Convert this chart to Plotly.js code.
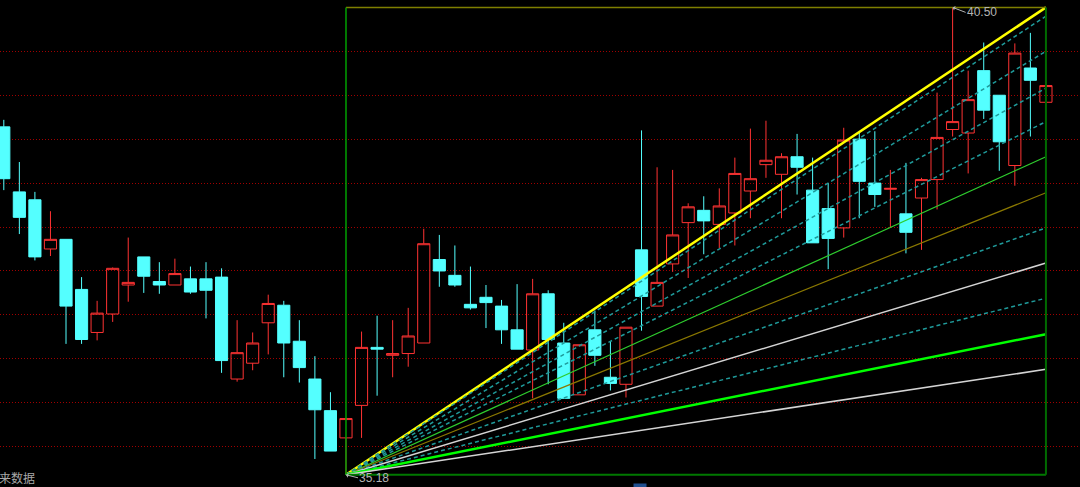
<!DOCTYPE html>
<html>
<head>
<meta charset="utf-8">
<script src="https://cdn.plot.ly/plotly-3.0.1.min.js"></script>
<style>
html,body{margin:0;padding:0;background:#000;overflow:hidden;}
#chart{width:1080px;height:487px;}
</style>
</head>
<body>
<div id="chart"></div>
<script>
// ---- candle data (index 0..67) ----
const bars = [0,1,2,3,4,5,6,7,8,9,10,11,12,13,14,15,16,17,18,19,20,21,22,23,24,25,26,27,28,29,30,31,32,33,34,35,36,37,38,39,40,41,42,43,44,45,46,47,48,49,50,51,52,53,54,55,56,57,58,59,60,61,62,63,64,65,66,67];
const openP  = [39.14,38.40,38.31,37.75,37.86,37.29,36.80,37.01,37.34,37.66,37.38,37.34,37.41,37.41,37.43,36.27,36.45,36.91,37.11,36.70,36.27,35.91,35.60,35.97,36.63,36.54,36.56,36.68,37.63,37.45,37.12,37.20,37.10,36.83,36.60,37.24,36.68,36.09,36.83,36.29,36.21,37.74,37.10,37.58,38.05,38.19,38.03,38.16,38.41,38.71,38.60,38.80,38.42,38.21,37.99,39.00,38.50,38.43,38.15,38.33,38.54,39.11,39.07,39.78,39.50,38.70,39.81,39.42];
const highP  = [39.22,38.74,38.40,38.18,37.86,37.43,37.16,37.54,37.88,37.66,37.60,37.64,37.55,37.60,37.53,36.94,36.80,37.23,37.16,36.94,36.53,36.12,35.82,36.81,36.99,36.94,37.08,37.98,37.91,37.79,37.55,37.34,37.17,37.35,37.41,37.28,36.91,36.66,37.05,36.70,36.86,39.10,38.68,38.65,38.27,38.35,38.44,38.79,39.12,39.21,38.84,39.06,38.79,38.50,39.13,39.09,39.09,38.65,38.73,38.56,39.53,40.50,39.78,40.10,39.50,40.09,40.21,39.61];
const lowP   = [38.42,37.92,37.62,37.67,36.67,36.67,36.71,36.92,37.15,37.25,37.24,37.34,37.24,36.96,36.34,36.24,36.37,36.55,36.29,36.23,35.36,35.45,35.18,35.60,36.08,36.29,36.41,36.68,37.32,37.32,37.06,36.85,36.67,36.61,36.05,36.21,36.05,36.09,36.42,36.14,36.06,36.82,37.10,37.49,37.42,37.69,37.76,37.79,38.10,38.56,38.10,38.37,37.82,37.52,37.88,38.10,38.23,37.99,37.70,37.74,38.20,39.03,38.61,39.23,38.64,38.47,39.03,39.42];
const closeP = [38.55,38.11,37.66,37.86,37.10,36.72,37.02,37.53,37.37,37.44,37.34,37.47,37.26,37.28,36.48,36.57,36.68,37.13,36.68,36.40,35.92,35.45,35.82,36.63,36.61,36.56,36.76,37.81,37.50,37.34,37.08,37.14,36.83,36.61,37.24,36.72,36.05,36.66,36.54,36.22,36.86,37.21,37.37,37.91,38.23,38.07,38.24,38.61,38.55,38.76,38.80,38.68,37.82,37.87,38.99,38.52,38.37,38.44,37.94,38.54,39.02,39.20,39.45,39.33,38.97,39.98,39.67,39.61];

// ---- gann fan ----
const fanStartBar = 22;
const fanStartPrice = 35.18;
const fanEndBar = 67;
const fanTopPrice = 40.50;
const highBar = 61;
const fanEndPrices = [40.50, 40.40, 40.00, 39.58, 39.20, 38.80, 38.39, 37.99, 37.59, 37.19, 36.78, 36.38];
const fanKinds     = ['yellow','dash','dash','dash','dash','green','olive','dash','white','dash','lime','white'];

// ---- grid levels ----
const gridLevels = [35.5,36.0,36.5,37.0,37.5,38.0,38.5,39.0,39.5,40.0];

const fanStyle = {
  yellow: {color:'#ffff00', width:2.5},
  dash:   {color:'#1f9a9a', width:1.5, dash:'4px,3px'},
  green:  {color:'#2ecc2e', width:1.2},
  olive:  {color:'#8a7800', width:1.2},
  white:  {color:'#d4d4d4', width:1.5},
  lime:   {color:'#00ff00', width:2.5}
};

const traces = [{
  type:'candlestick',
  x: bars, open: openP, high: highP, low: lowP, close: closeP,
  increasing:{line:{color:'#ff3333', width:1}, fillcolor:'rgba(0,0,0,0)'},
  decreasing:{line:{color:'#54ffff', width:1}, fillcolor:'#54ffff'},
  whiskerwidth:0,
  hoverinfo:'skip',
  showlegend:false
}];

fanEndPrices.forEach((p,k)=>{
  traces.push({
    type:'scatter', mode:'lines',
    x:[fanStartBar, fanEndBar], y:[fanStartPrice, p],
    line: fanStyle[fanKinds[k]],
    hoverinfo:'skip', showlegend:false
  });
});

const shapes = [
  {type:'line', x0:fanStartBar, x1:fanEndBar, y0:fanTopPrice, y1:fanTopPrice, line:{color:'#7f7f00', width:1.5}},
  {type:'line', x0:fanStartBar, x1:fanEndBar, y0:fanStartPrice, y1:fanStartPrice, line:{color:'#007800', width:2}},
  {type:'line', x0:fanStartBar, x1:fanStartBar, y0:fanStartPrice, y1:fanTopPrice, line:{color:'#00a000', width:1.5}},
  {type:'line', x0:fanEndBar, x1:fanEndBar, y0:fanStartPrice, y1:fanTopPrice, line:{color:'#006a00', width:2}}
];

const lblFont = {family:'Liberation Sans, Arial, sans-serif', size:12, color:'#b4b4b4'};
const annotations = [
  {x:highBar, y:fanTopPrice, xref:'x', yref:'y', text:'40.50', showarrow:true, ax:13, ay:5,
   xanchor:'left', yanchor:'middle', arrowhead:1, arrowsize:0.8, arrowwidth:1, arrowcolor:'#b4b4b4',
   standoff:0, font:lblFont, borderpad:0},
  {x:fanStartBar, y:fanStartPrice, xref:'x', yref:'y', text:'35.18', showarrow:true, ax:12, ay:3,
   xanchor:'left', yanchor:'middle', arrowhead:1, arrowsize:0.8, arrowwidth:1, arrowcolor:'#b4b4b4',
   standoff:0, font:lblFont, borderpad:0},
  {xref:'paper', yref:'paper', x:37/1080, y:(487-477)/487, xanchor:'right', yanchor:'middle',
   text:'未来数据', showarrow:false, font:{family:'Noto Sans CJK SC, sans-serif', size:12, color:'#a8a8a8'}},
  {xref:'paper', yref:'paper', x:59/1080, y:1+6/487, xanchor:'center', yanchor:'middle',
   text:'均线', showarrow:false, font:{family:'Noto Sans CJK SC, sans-serif', size:11, color:'#2ec8c8'}},
  {xref:'paper', yref:'paper', x:136/1080, y:1+6/487, xanchor:'center', yanchor:'middle',
   text:'均线', showarrow:false, font:{family:'Noto Sans CJK SC, sans-serif', size:11, color:'#22cc22'}},
  {xref:'paper', yref:'paper', x:212/1080, y:1+6/487, xanchor:'center', yanchor:'middle',
   text:'均线', showarrow:false, font:{family:'Noto Sans CJK SC, sans-serif', size:11, color:'#d0d0d0'}},
  {xref:'paper', yref:'paper', x:640/1080, y:-5/487, xanchor:'center', yanchor:'middle',
   text:'时', showarrow:false, bgcolor:'#1f4f8f', borderpad:1,
   font:{family:'Noto Sans CJK SC, sans-serif', size:10, color:'#ffffff'}},
  {xref:'paper', yref:'paper', x:359/1080, y:-2/487, xanchor:'center', yanchor:'middle',
   text:'▲', showarrow:false, font:{family:'DejaVu Sans', size:8, color:'#ff2020'}}
];

const layout = {
  width:1080, height:487,
  margin:{l:0, r:0, t:0, b:0, pad:0},
  paper_bgcolor:'#000000', plot_bgcolor:'#000000',
  boxgap:0.22, boxgroupgap:0,
  showlegend:false,
  xaxis:{range:[-0.244, 69.19], showgrid:false, zeroline:false, showticklabels:false, ticks:'',
         showline:false, rangeslider:{visible:false}, fixedrange:true},
  yaxis:{range:[35.041, 40.584], tickvals:gridLevels, showticklabels:false, ticks:'',
         showgrid:true, gridcolor:'#a00000', gridwidth:1, griddash:'1px,2px',
         zeroline:false, showline:false, fixedrange:true},
  shapes: shapes,
  annotations: annotations,
  hovermode:false
};

Plotly.newPlot('chart', traces, layout, {displayModeBar:false, staticPlot:true});
</script>
</body>
</html>
